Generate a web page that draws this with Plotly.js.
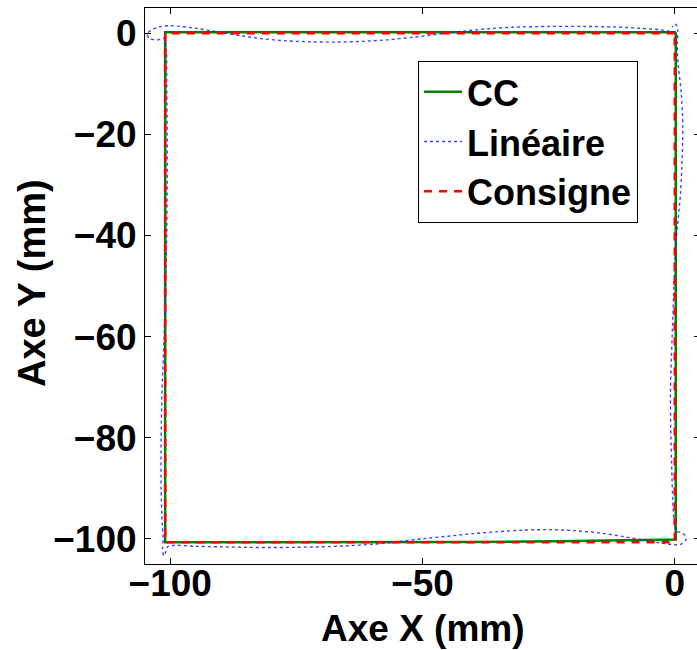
<!DOCTYPE html>
<html>
<head>
<meta charset="utf-8">
<script src="https://cdn.plot.ly/plotly-3.0.1.min.js"></script>
<style>
html,body{margin:0;padding:0;overflow:hidden;background:#fff;width:697px;height:650px;}
#chart{width:700px;height:650px;}
</style>
</head>
<body>
<div id="chart"></div>
<script>
// ---- data ----
const seriesNames = ["CC", "Linéaire", "Consigne"];

const consigneX = [0, -101, -101, 0, 0];
const consigneY = [0, 0, -100.7, -100.7, 0];

const ccX = [0.2, -50, -101, -101, -60, -40, -20, -5, 0.2, 0.2];
const ccY = [0.2, 0.2, 0.2, -100.7, -100.7, -100.65, -100.45, -100.25, -100.15, 0.2];

const linX = [
  0.2, -1, -3, -7, -12, -18, -25, -32, -37, -42, -47, -52, -57, -62, -67, -72, -77, -82, -86, -89, -92, -95, -98, -100, -102, -103.8, -104.6, -104, -102.5, -101.2,
  -100.8, -100.7, -100.6, -100.6, -100.7, -100.9, -101.2, -101.6, -101.8, -101.8, -101.6, -101.4, -101.5, -101.3, -100.9, -100.4,
  -99, -95, -90, -85, -80, -75, -70, -65, -60, -55, -50, -45, -40, -35, -30, -25, -20, -15, -10, -6, -3, 0,
  1.2, 2.2, 2.0, 1.0, 0.3,
  -0.1, -0.3, -0.65, -0.8, -0.85, -0.7, -0.45, -0.25, 0, 0.4, 1.15, 1.45, 1.6, 1.3, 0.6, 0.5, 0.6, 0.4, 0, -0.5
];
const linY = [
  0.2, 0.35, 0.7, 1.0, 1.25, 1.35, 1.35, 1.2, 0.9, 0.4, -0.2, -0.8, -1.3, -1.6, -1.75, -1.7, -1.5, -1.05, -0.5, 0.0, 0.5, 1.0, 1.35, 1.5, 1.3, 0.6, -0.2, -1.1, -1.3, -1.0,
  -3, -10, -20, -30, -40, -50, -60, -70, -80, -90, -97, -100, -102, -103.4, -102.6, -101.5,
  -101.3, -101.5, -101.6, -101.7, -101.75, -101.7, -101.6, -101.4, -101.1, -100.6, -100.0, -99.5, -99.0, -98.6, -98.3, -98.2, -98.4, -98.85, -99.6, -100.3, -100.8, -101.2,
  -101.1, -100.2, -99.3, -98.7, -98.5,
  -97, -94.6, -84.7, -78, -71.5, -65, -58.3, -52, -45, -39.6, -31.6, -25, -18.5, -12, -5.3, -2, 0.5, 1.5, 1.8, 1.2
];

const xTickVals = [-100, -50, 0];
const yTickVals = [0, -20, -40, -60, -80, -100];
const xRange = [-105, 5];
const yRange = [-105, 5];
const xTitle = "Axe X (mm)";
const yTitle = "Axe Y (mm)";

// ---- drawing ----
const FONT = "Liberation Sans, Arial, Helvetica, sans-serif";
const fmt = v => v < 0 ? "\u2212" + Math.abs(v) : String(v);
const tickFont = {family: FONT, size: 37, color: "#000", weight: "bold"};

const traces = [
  {x: ccX, y: ccY, name: seriesNames[0], mode: "lines",
   line: {color: "rgb(0,128,0)", width: 2.5}},
  {x: linX, y: linY, name: seriesNames[1], mode: "lines",
   line: {color: "rgba(30,30,255,0.85)", width: 1.4, dash: "dot", shape: "spline", smoothing: 0.8}},
  {x: consigneX, y: consigneY, name: seriesNames[2], mode: "lines",
   line: {color: "rgb(255,0,0)", width: 2.5, dash: "8px,7px"}},
  // empty helper trace so the label-only x axis is drawn
  {x: [], y: [], xaxis: "x2", yaxis: "y", mode: "lines", showlegend: false, hoverinfo: "skip"}
];

const axisCommon = {
  showgrid: false, zeroline: false,
  showline: true, linecolor: "#000", linewidth: 1,
  mirror: "ticks", ticks: "inside", ticklen: 6, tickwidth: 1, tickcolor: "#000",
  tickfont: tickFont,
  automargin: false
};

const layout = {
  width: 700, height: 650,
  margin: {l: 145, r: 0, t: 8, b: 86},
  paper_bgcolor: "#fff", plot_bgcolor: "#fff",
  showlegend: true,
  xaxis: Object.assign({}, axisCommon, {
    range: xRange, tickvals: xTickVals, ticktext: xTickVals.map(fmt),
    showticklabels: false
  }),
  // label-only axis, raised a few pixels so the labels sit as in the reference
  xaxis2: {
    overlaying: "x", anchor: "free", position: 6 / 556, side: "bottom",
    range: xRange, tickvals: xTickVals, ticktext: xTickVals.map(fmt),
    showgrid: false, zeroline: false, showline: false, ticks: "",
    tickfont: tickFont, automargin: false
  },
  yaxis: Object.assign({}, axisCommon, {
    range: yRange, tickvals: yTickVals, ticktext: yTickVals.map(fmt)
  }),
  annotations: [
    {text: xTitle, xref: "paper", yref: "paper",
     x: 0.5, y: (564 - 628) / 556, xanchor: "center", yanchor: "middle",
     showarrow: false,
     font: {family: FONT, size: 37, color: "#000", weight: "bold"}},
    {text: yTitle, xref: "paper", yref: "paper",
     x: (32 - 145) / 555, y: (564 - 283) / 556, xanchor: "center", yanchor: "middle",
     textangle: -90, showarrow: false,
     font: {family: FONT, size: 38, color: "#000", weight: "bold"}}
  ],
  legend: {
    x: 0.492, y: 0.905, xanchor: "left", yanchor: "top",
    bgcolor: "#fff", bordercolor: "#000", borderwidth: 1,
    font: {family: FONT, size: 36, color: "#000", weight: "bold"},
    tracegroupgap: 0, itemwidth: 38
  }
};

Plotly.newPlot("chart", traces, layout, {displayModeBar: false, staticPlot: true});
</script>
</body>
</html>
